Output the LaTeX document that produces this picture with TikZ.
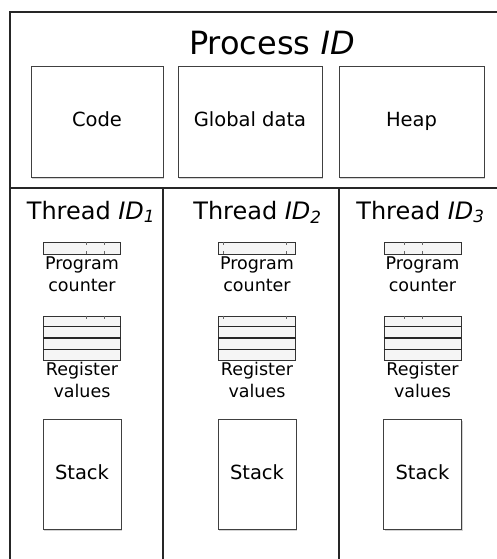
\documentclass[tikz,border=0pt]{standalone}
\usepackage{fontspec}
\setmainfont{DejaVu Sans}
\usetikzlibrary{shadows,positioning,calc}

\begin{document}
\begin{tikzpicture}[x=1pt,y=-1pt,
  membox/.style={draw=black!75,line width=1pt,fill=white,inner sep=0pt,
    drop shadow={shadow xshift=1.2pt,shadow yshift=-1.8pt,opacity=.35}},
  regbox/.style={draw=black!80,line width=.8pt,fill=black!4,inner sep=0pt,minimum width=77pt},
  lbl/.style={inner sep=0pt,align=center,font=\fontsize{17.5}{22}\selectfont},
  boxtext/.style={font=\fontsize{19.5}{22}\selectfont,text height=14pt,text depth=4pt}]

\useasboundingbox (0,0) rectangle (496,559);

% the process frame, cut by the page
\draw [line width=1.2pt,black!85] (510,12) -- (10,12) -- (10,570);
\draw [line width=1.2pt,black!85] (10,188) -- (510,188);
\foreach \x in {163,339}
\draw [line width=1.2pt,black!85] (\x,188) -- (\x,570);

\node [inner sep=0pt,font=\fontsize{32}{36}\selectfont] (title) at (272,43) {Process {\itshape ID}};

% the shared parts
\node [membox,boxtext,minimum width=132pt,minimum height=110pt] (code) at (97,122) {Code};
\node [membox,boxtext,minimum width=144pt,minimum height=110pt] (gdata) at (250,122) {Global data};
\node [membox,boxtext,minimum width=145pt,minimum height=110pt] (heap) at (411.5,122) {Heap};

% one column for each thread
\foreach \cx/\tx/\ta/\tb [count=\ni] in {82/91/.55/.78,257/257.5/.07/.87,422.5/420.5/.26/.5}
{
  \node [inner sep=0pt,font=\fontsize{24}{28}\selectfont] (thr\ni) at (\tx,212)
    {Thread {\itshape ID}\textsubscript{\itshape\ni}};

  % program counter
  \node [regbox,minimum height=12pt] (pc\ni) at (\cx,248) {};
  \foreach \f in {\ta,\tb}
  {
    \draw [black!60,thin] ($(pc\ni.north west)!\f!(pc\ni.north east)$) -- ++(0,3);
    \draw [black!60,thin] ($(pc\ni.south west)!\f!(pc\ni.south east)$) -- ++(0,-3);
  }
  \node [lbl,below=2pt of pc\ni] (pcl\ni) {Program\\counter};

  % register values
  \node [regbox,minimum height=44pt] (reg\ni) at (\cx,338) {};
  \foreach \f/\w in {.25/.8pt,.5/1.4pt,.75/.8pt}
  \draw [black!85,line width=\w] ($(reg\ni.north west)!\f!(reg\ni.south west)$) -- ($(reg\ni.north east)!\f!(reg\ni.south east)$);
  \foreach \f in {\ta,\tb}
  \draw [black!60,thin] ($(reg\ni.north west)!\f!(reg\ni.north east)$) -- ++(0,3);
  \node [lbl,below=2pt of reg\ni] (regl\ni) {Register\\values};

  % stack
  \node [membox,boxtext,minimum width=78pt,minimum height=110pt] (stk\ni) at (\cx,474) {Stack};
}

\end{tikzpicture}
\end{document}
